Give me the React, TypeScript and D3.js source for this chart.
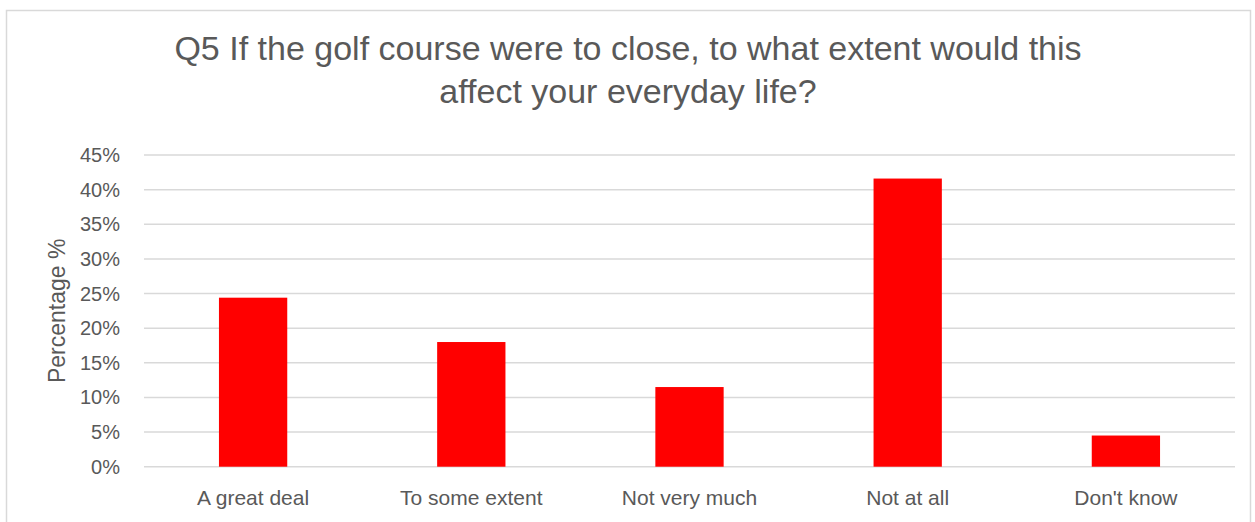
import React, { useEffect, useRef } from 'react';
import * as d3 from 'd3';

const categories = ['A great deal', 'To some extent', 'Not very much', 'Not at all', "Don't know"];
const percentages = [24.4, 18.0, 11.5, 41.6, 4.5];
const yTicks = [0, 5, 10, 15, 20, 25, 30, 35, 40, 45];
const titleLines = ['Q5 If the golf course were to close, to what extent would this', 'affect your everyday life?'];

const width = 1255;
const height = 522;
const font = '"Liberation Sans", Arial, sans-serif';
const textColor = '#595959';

const App = () => {
    const svgRef = useRef<SVGSVGElement | null>(null);

    useEffect(() => {
        const svg = d3.select(svgRef.current);
        svg.selectAll('*').remove();

        // chart frame
        svg.append('rect')
            .attr('x', 6.5).attr('y', 10.5)
            .attr('width', 1244).attr('height', 520)
            .attr('fill', '#fff').attr('stroke', '#d9d9d9').attr('stroke-width', 1.5);

        const plot = { left: 144, right: 1235, top: 155, bottom: 466.7 };

        const xScale = d3.scaleBand<string>()
            .domain(categories)
            .range([plot.left, plot.right])
            .paddingInner(0.687)
            .paddingOuter(0.3435);

        const yScale = d3.scaleLinear()
            .domain([0, 45])
            .range([plot.bottom, plot.top]);

        // title
        svg.append('g').selectAll('text')
            .data(titleLines)
            .join('text')
            .attr('x', 628)
            .attr('y', (_, i) => 60 + i * 43)
            .attr('text-anchor', 'middle')
            .attr('font-family', font)
            .attr('font-size', 34)
            .attr('fill', textColor)
            .text(d => d);

        // gridlines
        svg.append('g').selectAll('line')
            .data(yTicks)
            .join('line')
            .attr('x1', plot.left).attr('x2', plot.right)
            .attr('y1', d => yScale(d)).attr('y2', d => yScale(d))
            .attr('stroke', '#d9d9d9').attr('stroke-width', 1.5);

        // y tick labels
        svg.append('g').selectAll('text')
            .data(yTicks)
            .join('text')
            .attr('x', 120)
            .attr('y', d => yScale(d))
            .attr('dy', '0.35em')
            .attr('text-anchor', 'end')
            .attr('font-family', font)
            .attr('font-size', 20)
            .attr('fill', textColor)
            .text(d => `${d}%`);

        // bars
        svg.append('g').selectAll('rect')
            .data(percentages)
            .join('rect')
            .attr('x', (_, i) => xScale(categories[i]) as number)
            .attr('y', d => yScale(d))
            .attr('width', xScale.bandwidth())
            .attr('height', d => yScale(0) - yScale(d))
            .attr('fill', '#ff0000');

        // x labels
        svg.append('g').selectAll('text')
            .data(categories)
            .join('text')
            .attr('x', d => (xScale(d) as number) + xScale.bandwidth() / 2)
            .attr('y', 505)
            .attr('text-anchor', 'middle')
            .attr('font-family', font)
            .attr('font-size', 21)
            .attr('fill', textColor)
            .text(d => d);

        // y axis title
        svg.append('text')
            .attr('transform', `translate(65, ${(plot.top + plot.bottom) / 2}) rotate(-90)`)
            .attr('text-anchor', 'middle')
            .attr('font-family', font)
            .attr('font-size', 23)
            .attr('fill', textColor)
            .text('Percentage %');
    }, []);

    return (
        <svg ref={svgRef} width={width} height={height} style={{ display: 'block', position: 'absolute', left: 0, top: 0 }}></svg>
    );
};

export default App;
